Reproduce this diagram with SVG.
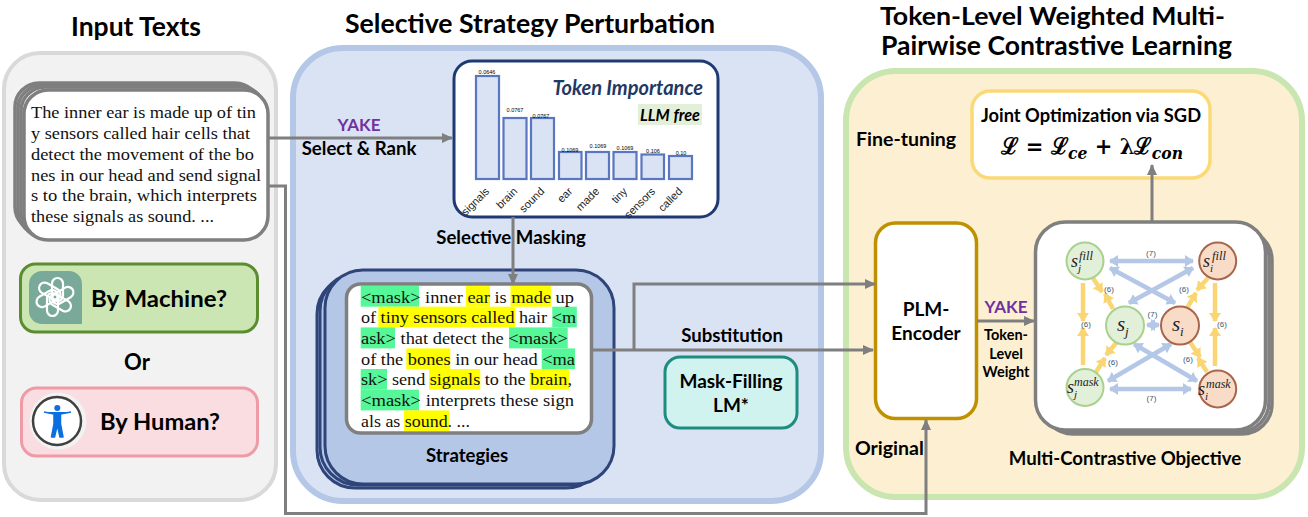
<svg xmlns="http://www.w3.org/2000/svg" xmlns:xlink="http://www.w3.org/1999/xlink" width="1308" height="517" viewBox="0 0 1308 517">
<style>
text{font-family:"Lato","Noto Sans","Liberation Sans",sans-serif;font-weight:700;fill:#000}
.title{font-size:26px}
.m{text-anchor:middle}
.lab{font-size:18.6px}
.body{font-family:"Liberation Serif","DejaVu Serif",serif;font-weight:400;font-size:17.5px;fill:#111}
.yake{fill:#7030a0;font-size:17px}
.bar{fill:#dae3f3;stroke:#5b76c0;stroke-width:2.200}
.val{font-family:"Liberation Sans",sans-serif;font-weight:400;font-size:5.500px;text-anchor:middle}
.tick{font-family:"Liberation Sans",sans-serif;font-weight:400;font-size:11px;text-anchor:end;fill:#222}
.hg{fill:#55f798}.hy{fill:#ffff00}
.conn{fill:none;stroke:#7f7f7f;stroke-width:3}
.blue{stroke:#b4c7e7;stroke-width:4.500;fill:none;marker-start:url(#bs);marker-end:url(#be)}
.or{stroke:#f9d673;stroke-width:4.500;fill:none;marker-end:url(#oe)}
.cg{fill:#e2f0d9;stroke:#a9d18e;stroke-width:2}
.co{fill:#f8dcc8;stroke:#a9654a;stroke-width:2}
.num{font-family:"Liberation Sans",sans-serif;font-weight:400;font-size:8px;fill:#44546a;text-anchor:middle}
.s{font-family:"Liberation Serif","DejaVu Serif",serif;font-style:italic;font-weight:400;fill:#222}
.stack{fill:#fff;stroke:#7f7f7f;stroke-width:3.500}
.cap{fill:none;stroke:#fff;stroke-width:2.200}
</style>
<defs>
<marker id="ar" markerUnits="userSpaceOnUse" markerWidth="14" markerHeight="14" refX="10" refY="7" orient="auto"><path d="M0 2L11 7L0 12Z" fill="#7f7f7f"/></marker>
<marker id="be" markerUnits="userSpaceOnUse" markerWidth="14" markerHeight="14" refX="8" refY="7" orient="auto"><path d="M0 1L9 7L0 13Z" fill="#b4c7e7"/></marker>
<marker id="bs" markerUnits="userSpaceOnUse" markerWidth="14" markerHeight="14" refX="1" refY="7" orient="auto"><path d="M9 1L0 7L9 13Z" fill="#b4c7e7"/></marker>
<marker id="oe" markerUnits="userSpaceOnUse" markerWidth="14" markerHeight="14" refX="8" refY="7" orient="auto"><path d="M0 1L9 7L0 13Z" fill="#f9d673"/></marker>
<rect id="capsule" class="cap" x="-3" y="-19" width="11" height="23" rx="5.500"/>
</defs>

<g id="panel-input">
<rect x="4" y="53" width="272" height="447" rx="36" fill="#f2f2f2" stroke="#d9d9d9" stroke-width="4"/>
<text class="title m" x="136" y="36" textLength="130" lengthAdjust="spacingAndGlyphs">Input Texts</text>
</g>
<g id="panel-perturbation">
<rect x="293" y="48" width="528" height="453" rx="50" fill="#dae3f3" stroke="#b4c7e7" stroke-width="6"/>
<text class="title" x="345" y="33" textLength="370" lengthAdjust="spacingAndGlyphs">Selective Strategy Perturbation</text>
</g>
<g id="panel-contrastive">
<rect x="846" y="71" width="456" height="426" rx="50" fill="#fdf0d2" stroke="#c9e5b0" stroke-width="6"/>
<text x="880" y="25" font-size="25" textLength="345" lengthAdjust="spacingAndGlyphs">Token-Level Weighted Multi-</text>
<text class="title" x="881" y="55" textLength="351" lengthAdjust="spacingAndGlyphs">Pairwise Contrastive Learning</text>
</g>

<g id="input-text">
<rect class="stack" x="15" y="83" width="244" height="148" rx="24"/>
<rect class="stack" x="18" y="85" width="244" height="150" rx="24"/>
<rect class="stack" x="21" y="87" width="244" height="151" rx="24"/>
<rect class="stack" x="24" y="90" width="244" height="150" rx="24"/>
<text class="body" x="31" y="118" textLength="225" lengthAdjust="spacingAndGlyphs">The inner ear is made up of tin</text>
<text class="body" x="31" y="139" textLength="219" lengthAdjust="spacingAndGlyphs">y sensors called hair cells that</text>
<text class="body" x="31" y="159.500" textLength="223" lengthAdjust="spacingAndGlyphs">detect the movement of the bo</text>
<text class="body" x="31" y="180.500" textLength="230" lengthAdjust="spacingAndGlyphs">nes in our head and send signal</text>
<text class="body" x="31" y="201" textLength="226" lengthAdjust="spacingAndGlyphs">s to the brain, which interprets</text>
<text class="body" x="31" y="222" textLength="183" lengthAdjust="spacingAndGlyphs">these signals as sound. ...</text>
</g>

<g id="by-machine">
<rect x="20.500" y="264" width="237" height="68" rx="15" fill="#cbe6b2" stroke="#5b8c2f" stroke-width="3"/>
<path d="M29 284a13 13 0 0 1 13-13h27a13 13 0 0 1 13 13v40H42a13 13 0 0 1-13-13Z" fill="#79a999"/>
<g transform="translate(55 297)">
<use xlink:href="#capsule" href="#capsule"/>
<use xlink:href="#capsule" href="#capsule" transform="rotate(60)"/>
<use xlink:href="#capsule" href="#capsule" transform="rotate(120)"/>
<use xlink:href="#capsule" href="#capsule" transform="rotate(180)"/>
<use xlink:href="#capsule" href="#capsule" transform="rotate(240)"/>
<use xlink:href="#capsule" href="#capsule" transform="rotate(300)"/>
</g>
<text x="91" y="307" font-size="22" textLength="136" lengthAdjust="spacingAndGlyphs">By Machine?</text>
</g>
<text id="or" class="m" x="137" y="370" font-size="22">Or</text>
<g id="by-human">
<rect x="21.500" y="388" width="236" height="68" rx="15" fill="#fadde1" stroke="#ef9aa7" stroke-width="3"/>
<circle cx="58" cy="421" r="28.500" fill="#f2f2f2"/>
<circle cx="57" cy="421" r="24" fill="#fff" stroke="#404040" stroke-width="2.500"/>
<circle cx="57.300" cy="408" r="3" fill="#0b6fe0"/>
<path d="M44 412L54 414L54 424L51.500 437H54.500L57.300 425L60 437H63L60.500 424V414L71 412" fill="#0b6fe0" stroke="#0b6fe0" stroke-width="1.500" stroke-linejoin="round"/>
<text x="100" y="430" font-size="22" textLength="120" lengthAdjust="spacingAndGlyphs">By Human?</text>
</g>

<g id="token-importance">
<rect x="454" y="61" width="264" height="156" rx="18" fill="#fff" stroke="#1f3a73" stroke-width="3"/>
<rect class="bar" x="476" y="76" width="23" height="103"/>
<rect class="bar" x="503.500" y="118" width="23" height="61"/>
<rect class="bar" x="531" y="118" width="23" height="61"/>
<rect class="bar" x="559" y="152" width="22.500" height="27"/>
<rect class="bar" x="586" y="152" width="23" height="27"/>
<rect class="bar" x="613.500" y="152" width="23" height="27"/>
<rect class="bar" x="641.500" y="154.500" width="22.500" height="24.500"/>
<rect class="bar" x="669" y="156" width="23" height="23"/>
<text class="val" x="487" y="74">0.0646</text>
<text class="val" x="515" y="112">0.0767</text>
<text class="val" x="541" y="118">0.0767</text>
<text class="val" x="570" y="151.500">0.1069</text>
<text class="val" x="598" y="148">0.1069</text>
<text class="val" x="625" y="150">0.1069</text>
<text class="val" x="653" y="152.500">0.106</text>
<text class="val" x="681" y="154.500">0.10</text>
<text class="tick" transform="translate(490 192) rotate(-45)">signals</text>
<text class="tick" transform="translate(518 192) rotate(-45)">brain</text>
<text class="tick" transform="translate(545 192) rotate(-45)">sound</text>
<text class="tick" transform="translate(573 192) rotate(-45)">ear</text>
<text class="tick" transform="translate(600 192) rotate(-45)">made</text>
<text class="tick" transform="translate(628 192) rotate(-45)">tiny</text>
<text class="tick" transform="translate(656 192) rotate(-45)">sensors</text>
<text class="tick" transform="translate(683 192) rotate(-45)">called</text>
<text x="703" y="95" text-anchor="end" font-size="20" font-style="italic" style="fill:#1f3864">Token Importance</text>
<rect x="638" y="104" width="64" height="21" fill="#e2f0d9"/>
<text x="640" y="121" font-size="17" font-style="italic" textLength="60" lengthAdjust="spacingAndGlyphs">LLM free</text>
</g>

<g id="strategies">
<rect x="317" y="276" width="287" height="212" rx="38" fill="#b4c7e7" stroke="#2f4478" stroke-width="3"/>
<rect x="320" y="273" width="290" height="212" rx="38" fill="#b4c7e7" stroke="#2f4478" stroke-width="3"/>
<rect x="325" y="270" width="289" height="214" rx="38" fill="#b4c7e7" stroke="#2f4478" stroke-width="3"/>
<rect x="346.500" y="284" width="245" height="149" rx="14" fill="#fff" stroke="#7f7f7f" stroke-width="3.500"/>
<g>
<rect class="hg" x="360.700" y="286" width="58.300" height="20.700"/>
<rect class="hy" x="466" y="286" width="24" height="20.700"/>
<rect class="hy" x="510.500" y="286" width="40.500" height="20.700"/>
<rect class="hy" x="378.300" y="306.700" width="136.700" height="20.700"/>
<rect class="hg" x="552.300" y="306.700" width="24.500" height="20.700"/>
<rect class="hg" x="360.700" y="327.400" width="34.300" height="21"/>
<rect class="hg" x="509" y="327.400" width="58.700" height="21"/>
<rect class="hy" x="406.300" y="348.400" width="44" height="20.600"/>
<rect class="hg" x="541.700" y="348.400" width="33.300" height="20.600"/>
<rect class="hg" x="360.700" y="369" width="26.300" height="20.700"/>
<rect class="hy" x="429" y="369" width="51.300" height="20.700"/>
<rect class="hy" x="530" y="369" width="39.300" height="20.700"/>
<rect class="hg" x="360.700" y="389.700" width="58.300" height="20.700"/>
<rect class="hy" x="404" y="410.400" width="45.300" height="20.700"/>
</g>
<text class="body" x="361" y="302.500" textLength="213" lengthAdjust="spacingAndGlyphs">&lt;mask&gt; inner ear is made up</text>
<text class="body" x="361" y="323.300" textLength="215" lengthAdjust="spacingAndGlyphs">of tiny sensors called hair &lt;m</text>
<text class="body" x="361" y="344" textLength="207" lengthAdjust="spacingAndGlyphs">ask&gt; that detect the &lt;mask&gt;</text>
<text class="body" x="361" y="364.700" textLength="214" lengthAdjust="spacingAndGlyphs">of the bones in our head &lt;ma</text>
<text class="body" x="361" y="385.400" textLength="211" lengthAdjust="spacingAndGlyphs">sk&gt; send signals to the brain,</text>
<text class="body" x="361" y="406" textLength="213" lengthAdjust="spacingAndGlyphs">&lt;mask&gt; interprets these sign</text>
<text class="body" x="361" y="427" textLength="109" lengthAdjust="spacingAndGlyphs">als as sound. ...</text>
<text class="lab m" x="467" y="462">Strategies</text>
</g>

<g id="mask-filling">
<rect x="665" y="357" width="132" height="71" rx="15" fill="#d0f3ef" stroke="#1f8c80" stroke-width="3"/>
<text class="m" x="731" y="388" font-size="19">Mask-Filling</text>
<text class="m" x="731" y="412" font-size="19">LM*</text>
</g>

<g id="plm-encoder">
<rect x="875.500" y="223" width="101" height="195.500" rx="20" fill="#fff" stroke="#bf9000" stroke-width="3.500"/>
<text class="m" x="926" y="316" font-size="19">PLM-</text>
<text class="m" x="926" y="340" font-size="19">Encoder</text>
</g>

<g id="joint-optimization">
<rect x="972" y="91" width="238" height="87" rx="18" fill="#fff" stroke="#fbd977" stroke-width="3.500"/>
<text class="m" x="1091" y="122" font-size="18.300">Joint Optimization via SGD</text>
<text x="1001" y="154" style="font-family:'DejaVu Serif','Liberation Serif',serif;font-weight:700" font-size="23" textLength="182" lengthAdjust="spacingAndGlyphs">ℒ = ℒ<tspan font-size="17" font-style="italic" dy="5">ce</tspan><tspan dy="-5"> + λℒ</tspan><tspan font-size="17" font-style="italic" dy="5">con</tspan></text>
</g>

<g id="multi-contrastive">
<rect class="stack" x="1043" y="230" width="229" height="204" rx="30"/>
<rect class="stack" x="1040" y="227" width="229" height="205" rx="30"/>
<rect class="stack" x="1035.500" y="222" width="230" height="208" rx="30"/>
<g>
<path class="blue" d="M1110 261H1193"/>
<path class="blue" d="M1110 268L1175 303"/>
<path class="blue" d="M1193 268L1129 303"/>
<path class="blue" d="M1147 325H1159"/>
<path class="blue" d="M1134 344L1197 381"/>
<path class="blue" d="M1171 344L1108 381"/>
<path class="blue" d="M1110 389H1191"/>
<path class="or" d="M1083 283V321"/>
<path class="or" d="M1083 365V328"/>
<path class="or" d="M1215 283V321"/>
<path class="or" d="M1215 366V328"/>
<path class="or" d="M1093 278L1102 292"/>
<path class="or" d="M1113 309L1105 294"/>
<path class="or" d="M1208 278L1197 290"/>
<path class="or" d="M1187 308L1196 293"/>
<path class="or" d="M1117 342L1106 355"/>
<path class="or" d="M1096 372L1105 358"/>
<path class="or" d="M1190 342L1200 357"/>
<path class="or" d="M1207 372L1198 358"/>
</g>
<circle class="cg" cx="1085" cy="261" r="18.500"/>
<circle class="co" cx="1217.700" cy="261" r="18.500"/>
<circle class="cg" cx="1125" cy="325.500" r="19"/>
<circle class="co" cx="1180" cy="325.500" r="19"/>
<circle class="cg" cx="1085" cy="387.500" r="18.500"/>
<circle class="co" cx="1217.700" cy="389" r="18.500"/>
<text class="s" x="1071" y="267" font-size="18">s</text><text class="s" x="1078" y="272" font-size="11">j</text><text class="s" x="1079" y="260" font-size="12.500">fill</text>
<text class="s" x="1203" y="267" font-size="18">s</text><text class="s" x="1210" y="272" font-size="11">i</text><text class="s" x="1212" y="260" font-size="12.500">fill</text>
<text class="s" x="1117" y="331" font-size="21">s</text><text class="s" x="1125" y="336" font-size="13">j</text>
<text class="s" x="1172" y="331" font-size="21">s</text><text class="s" x="1180" y="336" font-size="13">i</text>
<text class="s" x="1067" y="393" font-size="18">s</text><text class="s" x="1074" y="398" font-size="11">j</text><text class="s" x="1074" y="386" font-size="12">mask</text>
<text class="s" x="1198" y="395" font-size="18">s</text><text class="s" x="1205" y="400" font-size="11">i</text><text class="s" x="1206" y="388" font-size="12">mask</text>
<text class="num" x="1151" y="256">(7)</text>
<text class="num" x="1152.500" y="317">(7)</text>
<text class="num" x="1151.500" y="401">(7)</text>
<text class="num" x="1109" y="292">(6)</text>
<text class="num" x="1184" y="292">(6)</text>
<text class="num" x="1086" y="327">(6)</text>
<text class="num" x="1222" y="327">(6)</text>
<text class="num" x="1113" y="365">(6)</text>
<text class="num" x="1188" y="362">(6)</text>
<text class="lab m" x="1125" y="465">Multi-Contrastive Objective</text>
</g>

<g id="connectors">
<path class="conn" d="M268 138H452" marker-end="url(#ar)"/>
<path class="conn" d="M513 217V284" marker-end="url(#ar)"/>
<path class="conn" d="M592 350H873" marker-end="url(#ar)"/>
<path class="conn" d="M634 350V284H875" marker-end="url(#ar)"/>
<path class="conn" d="M268 186H285.500V513.500H926V420" marker-end="url(#ar)"/>
<path class="conn" d="M977 321H1034" marker-end="url(#ar)"/>
<path class="conn" d="M1152 222V165" marker-end="url(#ar)"/>
</g>

<g id="labels">
<text class="yake m" x="359" y="131">YAKE</text>
<text class="lab m" x="359" y="155">Select &amp; Rank</text>
<text class="lab m" x="511" y="244">Selective Masking</text>
<text class="lab m" x="732" y="342">Substitution</text>
<text x="856" y="146" font-size="19.500">Fine-tuning</text>
<text x="855" y="455" font-size="19.500">Original</text>
<text class="yake m" x="1006" y="313">YAKE</text>
<text class="m" x="1006" y="340" font-size="14.500">Token-</text>
<text class="m" x="1006" y="359" font-size="14.500">Level</text>
<text class="m" x="1006" y="377" font-size="14.500">Weight</text>
</g>
</svg>
